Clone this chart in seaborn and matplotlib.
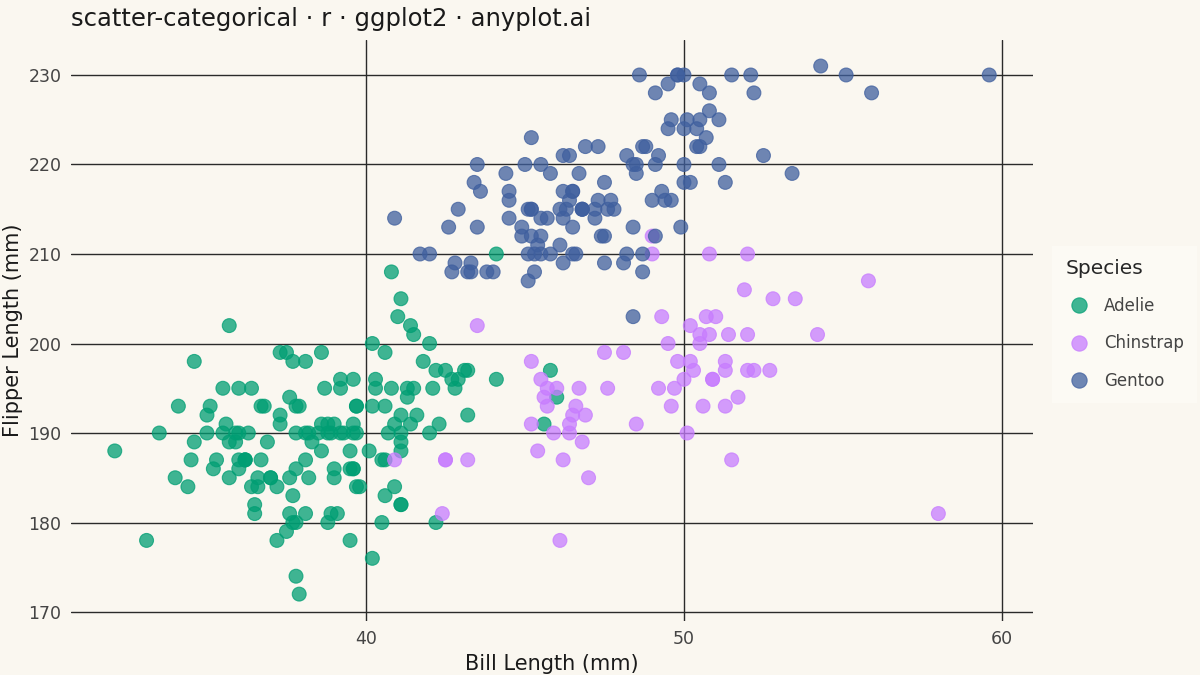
import pandas as pd
import seaborn as sns
import matplotlib.pyplot as plt

# Palmer penguins: bill length (mm) and flipper length (mm) per species
adelie_bill = [39.1, 39.5, 40.3, 36.7, 39.3, 38.9, 39.2, 34.1, 42.0, 37.8, 37.8, 41.1, 38.6, 34.6, 36.6,
               38.7, 42.5, 34.4, 46.0, 37.8, 37.7, 35.9, 38.2, 38.8, 35.3, 40.6, 40.5, 37.9, 40.5, 39.5,
               37.2, 39.5, 40.9, 36.4, 39.2, 38.8, 42.2, 37.6, 39.8, 36.5, 40.8, 36.0, 44.1, 37.0, 39.6,
               41.1, 37.5, 36.0, 42.3, 39.6, 40.1, 35.0, 42.0, 34.5, 41.4, 39.0, 40.6, 36.5, 37.6, 35.7,
               41.3, 37.6, 41.1, 36.4, 41.6, 35.5, 41.1, 35.9, 41.8, 33.5, 39.7, 39.6, 45.8, 35.5, 42.8,
               40.9, 37.2, 36.2, 42.1, 34.6, 42.9, 36.7, 35.1, 37.3, 41.3, 36.3, 36.9, 38.3, 38.9, 35.7,
               41.1, 34.0, 39.6, 36.2, 40.8, 38.1, 40.3, 33.1, 43.2, 35.0, 41.0, 37.7, 37.8, 37.9, 39.7,
               38.6, 38.2, 38.1, 43.2, 38.1, 45.6, 39.7, 42.2, 39.6, 42.7, 38.6, 37.3, 35.7, 41.1, 36.2,
               37.7, 40.2, 41.4, 35.2, 40.6, 38.8, 41.5, 39.0, 44.1, 38.5, 43.1, 36.8, 37.5, 38.1, 41.1,
               35.6, 40.2, 37.0, 39.7, 40.2, 40.6, 32.1, 40.7, 37.3, 39.0, 39.2, 36.6, 36.0, 37.8, 36.0,
               41.5]
adelie_flipper = [181, 186, 195, 193, 190, 181, 195, 193, 190, 186, 180, 182, 191, 198, 185,
                  195, 197, 184, 194, 174, 180, 189, 185, 180, 187, 183, 187, 172, 180, 178,
                  178, 188, 184, 195, 196, 190, 180, 181, 184, 182, 195, 186, 196, 185, 190,
                  182, 179, 190, 191, 186, 188, 190, 200, 187, 191, 186, 193, 181, 194, 185,
                  195, 185, 192, 184, 192, 195, 188, 190, 198, 190, 190, 196, 197, 190, 195,
                  191, 184, 187, 195, 189, 196, 187, 193, 191, 194, 190, 189, 189, 190, 202,
                  205, 185, 186, 187, 208, 190, 196, 178, 192, 192, 203, 183, 190, 193, 184,
                  199, 190, 181, 197, 198, 191, 193, 197, 191, 196, 188, 199, 189, 189, 187,
                  198, 176, 202, 186, 199, 191, 195, 191, 210, 190, 197, 193, 199, 187, 190,
                  191, 200, 185, 193, 193, 187, 188, 190, 192, 185, 190, 184, 195, 193, 187,
                  201]

chinstrap_bill = [46.5, 50.0, 51.3, 45.4, 52.7, 45.2, 46.1, 51.3, 46.0, 51.3, 46.6, 51.7, 47.0, 52.0,
                  45.9, 50.5, 50.3, 58.0, 46.4, 49.2, 42.4, 48.5, 43.2, 50.6, 46.7, 52.0, 50.5, 49.5,
                  46.4, 52.8, 40.9, 54.2, 42.5, 51.0, 49.7, 47.5, 47.6, 52.0, 46.9, 53.5, 49.0, 46.2,
                  50.9, 45.5, 50.9, 50.8, 50.1, 49.0, 51.5, 49.8, 48.1, 51.4, 45.7, 50.7, 42.5, 52.2,
                  45.2, 49.3, 50.2, 45.6, 51.9, 46.8, 45.7, 55.8, 43.5, 49.6, 50.8, 50.2]
chinstrap_flipper = [192, 196, 193, 188, 197, 198, 178, 197, 195, 198, 193, 194, 185, 201,
                     190, 201, 197, 181, 190, 195, 181, 191, 187, 193, 195, 197, 200, 200,
                     191, 205, 187, 201, 187, 203, 195, 199, 195, 210, 192, 205, 210, 187,
                     196, 196, 196, 201, 190, 212, 187, 198, 199, 201, 193, 203, 187, 197,
                     191, 203, 202, 194, 206, 189, 195, 207, 202, 193, 210, 198]

gentoo_bill = [46.1, 50.0, 48.7, 50.0, 47.6, 46.5, 45.4, 46.7, 43.3, 46.8, 40.9, 49.0, 45.5, 48.4,
               45.8, 49.3, 42.0, 49.2, 46.2, 48.7, 50.2, 45.1, 46.5, 46.3, 42.9, 46.1, 44.5, 47.8,
               48.2, 50.0, 47.3, 42.8, 45.1, 59.6, 49.1, 48.4, 42.6, 44.4, 44.0, 48.7, 42.7, 49.6,
               45.3, 49.6, 50.5, 43.6, 45.5, 50.5, 44.9, 45.2, 46.6, 48.5, 45.1, 50.1, 46.5, 45.0,
               43.8, 45.5, 43.2, 50.4, 45.3, 46.2, 45.7, 54.3, 45.8, 49.8, 46.2, 49.5, 43.5, 50.7,
               47.7, 46.4, 48.2, 46.5, 46.4, 48.6, 47.5, 51.1, 45.2, 45.2, 49.1, 52.5, 47.4, 50.0,
               44.9, 50.8, 43.4, 51.3, 47.5, 52.1, 47.5, 52.2, 45.5, 49.5, 44.5, 50.8, 49.4, 46.9,
               48.4, 51.1, 48.5, 55.9, 47.2, 49.1, 47.3, 46.8, 41.7, 53.4, 43.3, 48.1, 50.5, 49.8,
               43.5, 51.5, 46.2, 55.1, 44.5, 48.8, 47.2, 46.8, 50.4, 45.2, 49.9]
gentoo_flipper = [211, 230, 210, 218, 215, 210, 211, 219, 209, 215, 214, 216, 214, 213,
                  210, 217, 210, 221, 209, 222, 218, 215, 213, 215, 215, 215, 216, 215,
                  210, 220, 222, 209, 207, 230, 220, 220, 213, 219, 208, 208, 208, 225,
                  210, 216, 222, 217, 210, 225, 213, 215, 210, 220, 210, 225, 217, 220,
                  208, 220, 208, 224, 208, 221, 214, 231, 219, 230, 214, 229, 220, 223,
                  216, 221, 221, 217, 216, 230, 209, 220, 215, 223, 212, 221, 212, 224,
                  212, 228, 218, 218, 212, 230, 218, 228, 212, 224, 214, 226, 216, 222,
                  203, 225, 219, 228, 215, 228, 216, 215, 210, 219, 208, 209, 229, 230,
                  213, 230, 217, 230, 217, 222, 214, 215, 222, 212, 213]

species_order = ["Adelie", "Chinstrap", "Gentoo"]
colors = {"Adelie": "#009E73", "Chinstrap": "#C77CFF", "Gentoo": "#3F5F9E"}

df = pd.concat([
    pd.DataFrame({"bill": adelie_bill, "flipper": adelie_flipper, "species": "Adelie"}),
    pd.DataFrame({"bill": chinstrap_bill, "flipper": chinstrap_flipper, "species": "Chinstrap"}),
    pd.DataFrame({"bill": gentoo_bill, "flipper": gentoo_flipper, "species": "Gentoo"}),
], ignore_index=True)

bg = "#FAF7F0"
sns.set_style("white")
plt.rcParams["font.family"] = ["DejaVu Sans"]

fig = plt.figure(figsize=(12, 6.75), dpi=100, facecolor=bg)
ax = fig.add_axes([0.0592, 0.0807, 0.8016, 0.8606])
ax.set_facecolor(bg)

sns.scatterplot(data=df, x="bill", y="flipper", hue="species", hue_order=species_order,
                palette=colors, s=100, alpha=0.75, edgecolor="face", linewidth=0.8,
                ax=ax, zorder=3)

ax.set_xlim(30.725, 60.975)
ax.set_ylim(169.05, 233.95)
ax.set_xticks([40, 50, 60])
ax.set_yticks([170, 180, 190, 200, 210, 220, 230])
ax.grid(True, color="#2a2a2a", linewidth=1.0)
ax.set_axisbelow(True)
for s in ax.spines.values():
    s.set_visible(False)
ax.tick_params(length=0, labelsize=12.5, labelcolor="#444444", pad=7)

ax.set_xlabel("Bill Length (mm)", fontsize=15, color="#1a1a1a", labelpad=4)
ax.set_ylabel("Flipper Length (mm)", fontsize=15, color="#1a1a1a", labelpad=4)
fig.text(0.0592, 0.972, "scatter-categorical · r · ggplot2 · anyplot.ai", fontsize=17.5,
         color="#1a1a1a", va="center", ha="left")

handles, labels = ax.get_legend_handles_labels()
leg = ax.legend(handles, labels, title="Species", loc="center left",
                bbox_to_anchor=(1.02, 0.51), frameon=True, fontsize=12,
                title_fontsize=14.5, labelspacing=1.15, handletextpad=0.7,
                handlelength=1.6, borderpad=0.8, borderaxespad=0, markerscale=1.1)
leg.get_frame().set_facecolor("#FDFBF6")
leg.get_frame().set_edgecolor("none")
leg.get_frame().set_boxstyle("square", pad=0)
leg._legend_box.align = "left"
for t in leg.get_texts():
    t.set_color("#444444")

fig.savefig("out.png", dpi=100, facecolor=bg)
